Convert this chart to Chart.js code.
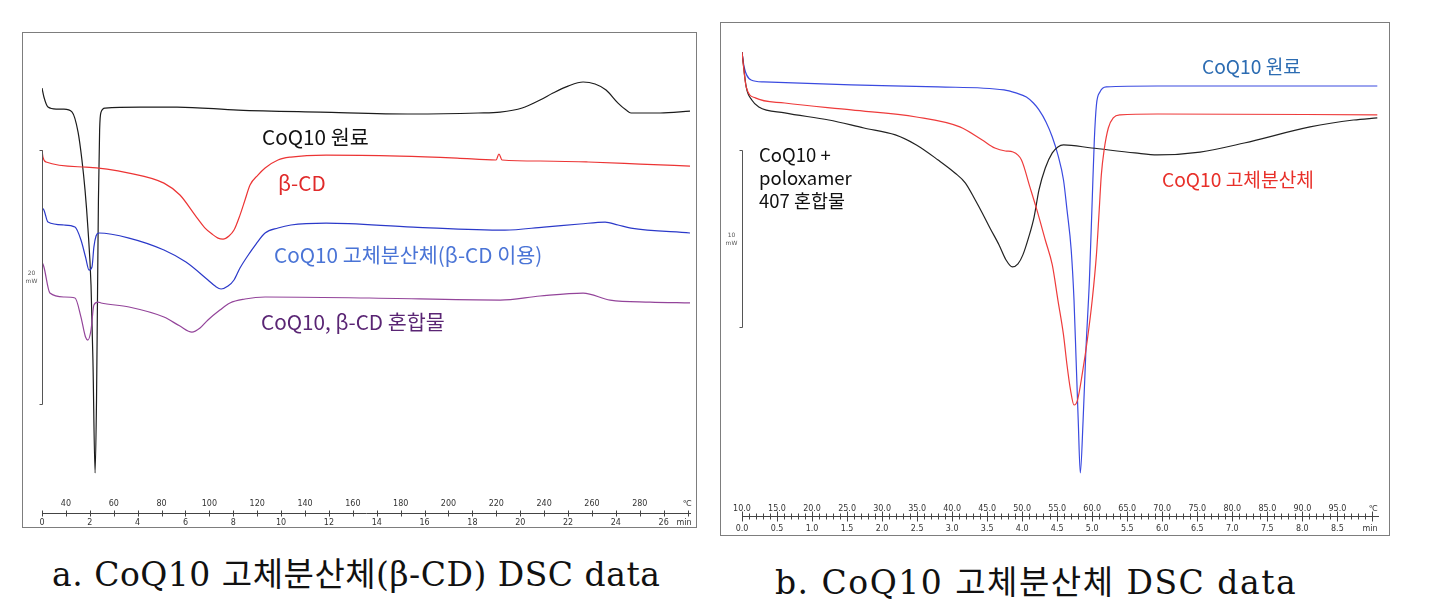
<!DOCTYPE html>
<html>
<head>
<meta charset="utf-8">
<script src="https://cdn.jsdelivr.net/npm/chart.js@4.4.1/dist/chart.umd.min.js"></script>
<style>
  body { margin: 0; background: #fff; width: 1456px; height: 607px; position: relative; overflow: hidden;
         font-family: "Noto Sans CJK KR", "Noto Sans", sans-serif; }
  .box { position: absolute; border: 1px solid #7d7d7d; }
  #boxA { left: 22px; top: 32px; width: 673px; height: 494px; }
  #boxB { left: 720px; top: 22px; width: 668px; height: 512px; }
  .box canvas { position: absolute; left: 0; top: 0; }
  .lbl { position: absolute; white-space: nowrap; line-height: 1; }
  .a { font-size: 20.7px; }
  .b { font-size: 19.2px; }
  .cap { position: absolute; white-space: nowrap; line-height: 1; color: #111;
         font-family: "DejaVu Serif", "Noto Sans CJK KR", serif; font-size: 33px; }
</style>
</head>
<body>
<div class="box" id="boxA"><canvas id="chartA" width="673" height="494"></canvas></div>
<div class="box" id="boxB"><canvas id="chartB" width="668" height="512"></canvas></div>

<div class="lbl a" style="left:262px;top:126px;color:#111">CoQ10 원료</div>
<div class="lbl a" style="left:278px;top:172px;color:#e02a2a">β-CD</div>
<div class="lbl a" style="left:274px;top:244px;color:#4a74d6">CoQ10 고체분산체(β-CD 이용)</div>
<div class="lbl a" style="left:261px;top:311px;color:#5a2574">CoQ10, β-CD 혼합물</div>

<div class="lbl b" style="left:1202px;top:57px;color:#2c6cb2">CoQ10 원료</div>
<div class="lbl b" style="left:1162px;top:170px;color:#e8302a">CoQ10 고체분산체</div>
<div class="lbl" style="left:759px;top:143px;font-size:18.5px;line-height:23px;color:#111">CoQ10 +<br>poloxamer<br>407 혼합물</div>

<div class="cap" style="left:52px;top:558px;letter-spacing:0.5px">a. CoQ10 고체분산체(β-CD) DSC data</div>
<div class="cap" style="left:775px;top:566px;letter-spacing:1.5px">b. CoQ10 고체분산체 DSC data</div>

<script>
// ---- a. CoQ10 고체분산체(β-CD): time (min) / heat flow (mW, offset) ----
const minTicksA = [0, 2, 4, 6, 8, 10, 12, 14, 16, 18, 20, 22, 24, 26];
const tempLabelsA = [40, 60, 80, 100, 120, 140, 160, 180, 200, 220, 240, 260, 280];
const startTempA = 30, rateA = 10;   // °C, °C/min

const tBlackA = [0, 0.08, 0.25, 0.59, 0.92, 1.26, 1.51, 1.67, 1.80, 1.92, 2.05, 2.13, 2.22, 2.28, 2.32, 2.36, 2.41, 2.47, 2.64, 4.10,
                 5.65, 8.20, 11.63, 15.52, 18.24, 19.16, 20.08, 20.83, 21.37, 22.0, 22.63, 23.13, 23.59, 24.09, 24.43, 24.63, 25.85, 27.1];
const yBlackA = [33.46, 32.76, 31.97, 31.81, 31.81, 31.57, 29.98, 27.80, 25.43, 22.44, 17.95, 12.05, 3.15, 8.90, 16.77, 24.65, 30.16, 31.57, 31.89, 31.97,
                 31.97, 31.73, 31.57, 31.42, 31.50, 31.57, 31.89, 32.52, 33.07, 33.62, 33.94, 33.78, 33.31, 32.28, 31.73, 31.50, 31.50, 31.65];

const tRedA = [0, 0.04, 0.17, 1.84, 3.64, 5.10, 5.77, 6.40, 6.82, 7.11, 7.36, 7.57, 7.82, 8.03, 8.28, 8.49, 8.70, 9.03, 9.33, 9.87,
               10.41, 11.88, 14.97, 17.36, 18.99, 19.11, 19.24, 20.83, 22.84, 25.01, 27.1];
const yRedA = [28.58, 28.03, 27.64, 27.24, 26.77, 25.98, 25.04, 23.46, 22.44, 21.97, 21.65, 21.57, 21.81, 22.28, 23.46, 24.65, 25.83, 26.61, 27.17, 27.80,
               28.03, 28.19, 28.11, 27.95, 27.80, 28.27, 27.80, 27.72, 27.64, 27.48, 27.32];

const tBlueA = [0, 0.08, 0.25, 0.92, 1.38, 1.63, 1.82, 1.97, 2.09, 2.17, 2.26, 2.38, 3.64, 5.10, 6.02, 6.94, 7.24, 7.49, 7.78, 8.03,
                8.28, 8.57, 8.95, 9.33, 9.87, 10.41, 11.88, 15.52, 19.36, 20.99, 22.50, 23.55, 24.09, 24.63, 27.1];
const yBlueA = [24.02, 23.86, 22.91, 22.68, 22.52, 21.50, 20.16, 19.13, 19.37, 20.94, 21.81, 22.05, 21.65, 20.71, 19.76, 18.35, 17.87, 17.64, 17.87, 18.35,
                19.29, 20.16, 21.18, 22.05, 22.44, 22.68, 22.83, 22.52, 22.28, 22.52, 22.76, 22.91, 22.68, 22.44, 22.05];

const tPurpleA = [0, 0.08, 0.33, 0.92, 1.38, 1.63, 1.82, 1.92, 2.05, 2.17, 2.34, 2.47, 3.64, 5.10, 5.77, 6.27, 6.61, 6.94, 7.44, 7.86,
                  8.49, 9.33, 13.68, 19.16, 20.83, 22.63, 23.76, 25.43, 27.1];
const yPurpleA = [19.76, 19.37, 17.32, 17.01, 16.93, 15.43, 13.86, 13.62, 14.41, 16.38, 16.61, 16.54, 16.22, 15.43, 14.72, 14.25, 14.57, 15.20, 15.98, 16.54,
                  16.85, 17.01, 16.93, 16.77, 17.09, 17.32, 16.77, 16.61, 16.54];
const scaleBarA = [8.6, 28.6];   // 20 mW

// ---- b. CoQ10 고체분산체 ----
const minTicksB = [0, 0.5, 1, 1.5, 2, 2.5, 3, 3.5, 4, 4.5, 5, 5.5, 6, 6.5, 7, 7.5, 8, 8.5];
const tempLabelsB = [10, 15, 20, 25, 30, 35, 40, 45, 50, 55, 60, 65, 70, 75, 80, 85, 90, 95];
const startTempB = 10, rateB = 10;

const tBlueB = [0, 0.03, 0.13, 0.31, 1.56, 2.80, 3.74, 3.91, 4.06, 4.16, 4.24, 4.34, 4.43, 4.51, 4.59, 4.64, 4.70, 4.74, 4.77, 4.80,
                4.83, 4.87, 4.91, 4.96, 5.00, 5.03, 5.06, 5.11, 5.20, 5.93, 9.07];
const yBlueB = [26.21, 25.37, 24.63, 24.52, 24.35, 24.24, 24.07, 23.90, 23.67, 23.33, 22.94, 22.26, 21.41, 20.40, 18.98, 17.29, 15.03, 12.20, 8.81, 5.42,
                2.43, 5.42, 9.38, 13.33, 17.85, 21.24, 23.22, 23.95, 24.24, 24.29, 24.29];

const tRedB = [0, 0.06, 0.19, 0.61, 1.56, 2.49, 3.11, 3.43, 3.61, 3.76, 3.87, 3.99, 4.11, 4.21, 4.33, 4.43, 4.51, 4.59, 4.64, 4.69,
               4.74, 4.79, 4.86, 4.93, 5.00, 5.06, 5.10, 5.13, 5.17, 5.23, 5.30, 5.40, 5.93, 9.07];
const yRedB = [26.21, 24.24, 23.62, 23.33, 22.94, 22.54, 21.98, 21.24, 20.79, 20.62, 20.56, 20.11, 18.59, 17.29, 15.59, 14.18, 12.20, 10.23, 8.53, 7.12,
               6.27, 6.55, 8.08, 9.94, 12.20, 14.75, 17.29, 19.27, 20.68, 21.92, 22.49, 22.66, 22.71, 22.66];

const tBlackB = [0, 0.06, 0.14, 0.24, 0.61, 1.24, 1.74, 2.19, 2.49, 2.80, 3.04, 3.19, 3.33, 3.43, 3.54, 3.67, 3.77, 3.86, 3.94, 4.01,
                 4.09, 4.17, 4.24, 4.33, 4.43, 4.51, 4.59, 4.99, 5.61, 5.93, 6.54, 7.17, 8.11, 8.73, 9.07];
const yBlackB = [26.21, 24.24, 23.50, 23.11, 22.77, 22.37, 21.92, 21.53, 20.96, 20.11, 19.38, 18.81, 17.85, 17.12, 16.27, 15.31, 14.46, 14.07, 14.24, 14.75,
                 15.71, 16.89, 18.42, 19.66, 20.51, 20.85, 20.96, 20.79, 20.51, 20.40, 20.56, 21.07, 21.98, 22.37, 22.49];
const scaleBarB = [10.7, 20.7];  // 10 mW

const pts = (t, y) => t.map((v, i) => ({ x: v, y: y[i] }));
const line = (t, y, color) => ({
    data: pts(t, y), borderColor: color, borderWidth: 1.2, pointRadius: 0,
    cubicInterpolationMode: 'monotone', fill: false
});

// 눈금자(온도/시간)와 mW 스케일 막대
const rulerPlugin = {
    id: 'ruler',
    afterDraw(chart, args, o) {
        const { ctx, scales: { x, y } } = chart;
        const base = Math.round(x.top) + 0.5;
        ctx.save();
        ctx.strokeStyle = '#444';
        ctx.lineWidth = 1;
        o.marks.forEach(v => {
            const px = Math.round(x.getPixelForValue(v)) + 0.5;
            const len = o.isMajor(v) ? o.majorLen : o.minorLen;
            ctx.beginPath();
            ctx.moveTo(px, base - len);
            ctx.lineTo(px, base + len);
            ctx.stroke();
        });
        ctx.fillStyle = '#333';
        ctx.font = '8px "DejaVu Sans"';
        ctx.textAlign = 'center';
        ctx.textBaseline = 'middle';
        o.temps.forEach(T => {
            ctx.fillText(o.fmtT(T), x.getPixelForValue((T - o.startTemp) / o.rate), base - o.tempGap);
        });
        o.mins.forEach(m => {
            ctx.fillText(o.fmtM(m), x.getPixelForValue(m), base + o.minGap);
        });
        ctx.fillText('℃', x.right - o.unitInset, base - o.tempGap);
        ctx.fillText('min', x.right - o.unitInset - 3, base + o.minGap);

        // scale bar
        const bx = Math.round(x.getPixelForValue(0)) + 0.5;
        const top = Math.round(y.getPixelForValue(o.bar[1])) + 0.5;
        const bot = Math.round(y.getPixelForValue(o.bar[0])) + 0.5;
        ctx.strokeStyle = '#555';
        ctx.beginPath();
        ctx.moveTo(bx - 3, top); ctx.lineTo(bx, top); ctx.lineTo(bx, bot); ctx.lineTo(bx - 3, bot);
        ctx.stroke();
        ctx.font = '6px "DejaVu Sans"';
        ctx.fillStyle = '#555';
        ctx.fillText(o.barValue, bx - 11, (top + bot) / 2 - 4);
        ctx.fillText('mW', bx - 11, (top + bot) / 2 + 4);
        ctx.restore();
    }
};

function makeChart(id, datasets, cfg) {
    return new Chart(document.getElementById(id), {
        type: 'line',
        data: { datasets },
        options: {
            responsive: false, animation: false, devicePixelRatio: 1,
            layout: { padding: cfg.padding },
            plugins: { legend: { display: false }, tooltip: { enabled: false }, ruler: cfg.ruler },
            scales: {
                x: {
                    type: 'linear', min: 0, max: cfg.xMax,
                    grid: { display: false },
                    border: { display: true, color: '#444', width: 1 },
                    ticks: { display: false },
                    afterFit: s => { s.height = cfg.axisHeight; }
                },
                y: { display: false, min: 0, max: cfg.yMax }
            }
        },
        plugins: [rulerPlugin]
    });
}

const marksA = Array.from({ length: 28 }, (_, i) => i);
makeChart('chartA', [
    line(tRedA, yRedA, '#ec3434'),
    line(tBlueA, yBlueA, '#2b39c9'),
    line(tPurpleA, yPurpleA, '#93449a'),
    line(tBlackA, yBlackA, '#1b1b1b')
], {
    padding: { left: 19, right: 6, top: 0, bottom: 0 },
    xMax: 27.1, yMax: 37.8, axisHeight: 14,
    ruler: {
        marks: marksA, isMajor: () => true, majorLen: 3, minorLen: 3,
        temps: tempLabelsA, startTemp: startTempA, rate: rateA, fmtT: T => String(T),
        mins: minTicksA, fmtM: m => String(m),
        tempGap: 10, minGap: 9, unitInset: 3, bar: scaleBarA, barValue: '20'
    }
});

const marksB = Array.from({ length: 91 }, (_, i) => i / 10);
makeChart('chartB', [
    line(tRedB, yRedB, '#ee3b3b'),
    line(tBlackB, yBlackB, '#222222'),
    line(tBlueB, yBlueB, '#3a4ae0')
], {
    padding: { left: 21, right: 11, top: 0, bottom: 0 },
    xMax: 9.08, yMax: 27.85, axisHeight: 19,
    ruler: {
        marks: marksB, isMajor: v => Math.abs(v * 2 - Math.round(v * 2)) < 1e-6, majorLen: 5, minorLen: 3,
        temps: tempLabelsB, startTemp: startTempB, rate: rateB, fmtT: T => T.toFixed(1),
        mins: minTicksB, fmtM: m => m.toFixed(1),
        tempGap: 8, minGap: 12, unitInset: 5, bar: scaleBarB, barValue: '10'
    }
});
</script>
</body>
</html>
